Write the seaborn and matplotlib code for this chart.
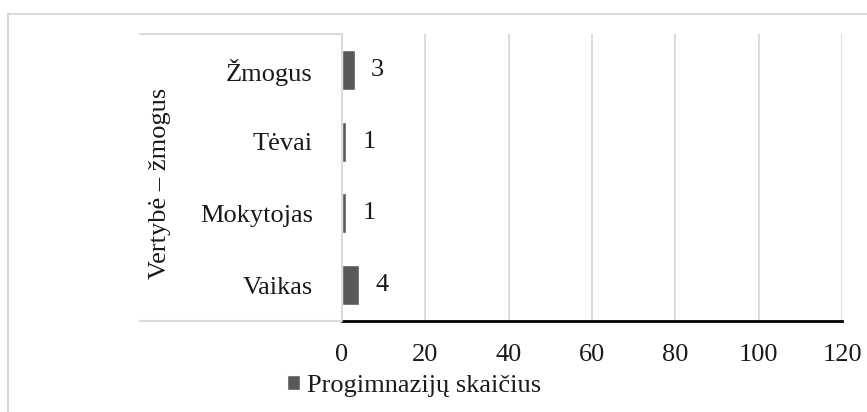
import matplotlib
matplotlib.use("Agg")
import matplotlib.pyplot as plt
from matplotlib.lines import Line2D
import seaborn as sns
import pandas as pd

categories = ["Žmogus", "Tėvai", "Mokytojas", "Vaikas"]
values = [3, 1, 1, 4]
series_name = "Progimnazijų skaičius"
axis_title = "Vertybė – žmogus"
xticks = [0, 20, 40, 60, 80, 100, 120]

sns.set_theme(style="white")
plt.rcParams["font.family"] = ["Liberation Serif", "DejaVu Serif"]

FS = 19
TXT = "#1a1a1a"
W, H = 867, 412
fig = plt.figure(figsize=(W / 100, H / 100), dpi=100)
ax = fig.add_axes([342 / W, 1 - 321 / H, (842 - 342) / W, (321 - 34) / H])

df = pd.DataFrame({"cat": categories, "val": values})
sns.barplot(data=df, y="cat", x="val", orient="h", color="#595959",
            width=0.56, saturation=1, ax=ax, label=series_name)

ax.set_xlim(0, 120)
ax.set_xticks(xticks)
ax.set_xticklabels([str(t) for t in xticks])
ax.grid(axis="x", color="#d9d9d9", linewidth=1.3)
ax.set_axisbelow(True)
ax.set_xlabel("")
ax.set_ylabel("")
for s in ["top", "right"]:
    ax.spines[s].set_visible(False)
ax.spines["left"].set_color("#d9d9d9")
ax.spines["left"].set_linewidth(1.3)
ax.spines["bottom"].set_color("black")
ax.spines["bottom"].set_linewidth(2)
ax.tick_params(axis="x", length=0, pad=16.5, labelsize=FS, colors=TXT)
ax.tick_params(axis="y", length=0, pad=21, labelsize=FS, colors=TXT)

for c in ax.containers:
    ax.bar_label(c, labels=[str(v) for v in values], padding=12, fontsize=FS, color=TXT)

# left category-title box
box_col = "#d9d9d9"
fig.add_artist(Line2D([140 / W, 342 / W], [1 - 34 / H, 1 - 34 / H], color=box_col, lw=1.5))
fig.add_artist(Line2D([140 / W, 342 / W], [1 - 321 / H, 1 - 321 / H], color=box_col, lw=1.5))
fig.text(160 / W, 1 - 183 / H, axis_title, rotation=90, ha="center", va="center",
         fontsize=FS, color=TXT)

# outer chart frame
fig.add_artist(Line2D([8 / W, 1], [1 - 14 / H, 1 - 14 / H], color=box_col, lw=1.5))
fig.add_artist(Line2D([8 / W, 8 / W], [0, 1 - 14 / H], color=box_col, lw=1.5))

leg = ax.legend(loc="center left", bbox_to_anchor=(287 / W, 1 - 386 / H),
                bbox_transform=fig.transFigure, frameon=False, fontsize=FS,
                handlelength=0.5, handleheight=0.5, handletextpad=0.27,
                borderpad=0, borderaxespad=0)
for t in leg.get_texts():
    t.set_color(TXT)

fig.savefig("out.png", dpi=100)
